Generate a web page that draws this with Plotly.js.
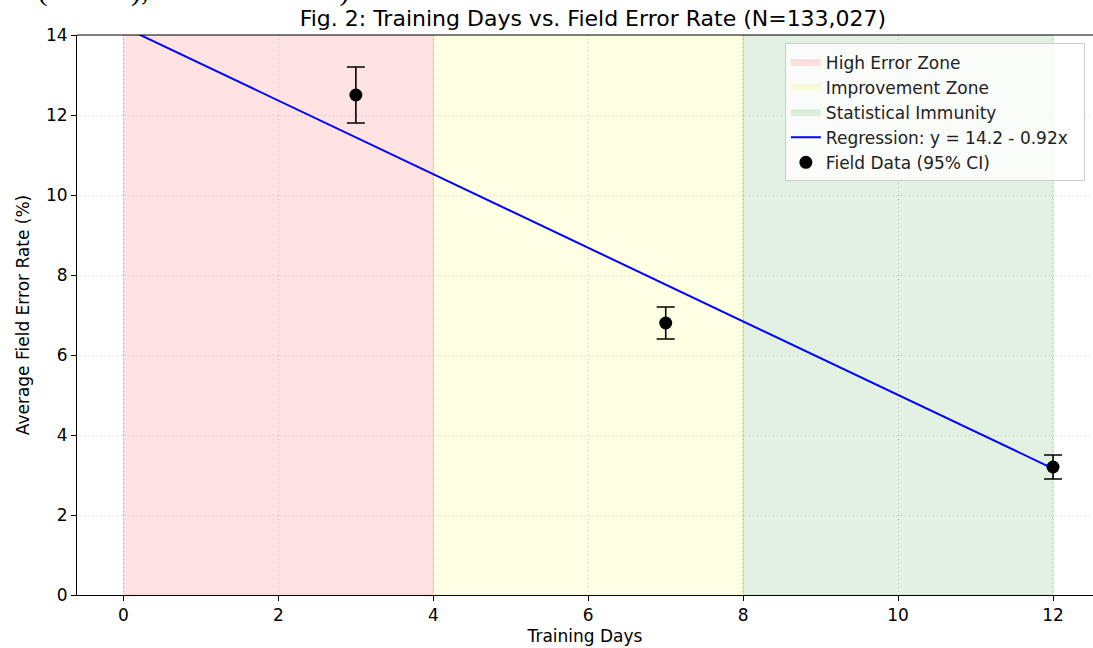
<!DOCTYPE html>
<html>
<head>
<meta charset="utf-8">
<script src="https://cdn.plot.ly/plotly-3.0.1.min.js"></script>
<style>html,body{margin:0;padding:0;background:#fff;overflow:hidden}</style>
</head>
<body>
<div id="chart" style="width:1093px;height:648px"></div>
<script>
// Zones
const zoneNames = ["High Error Zone", "Improvement Zone", "Statistical Immunity"];
const zoneStart = [0, 4, 8];
const zoneEnd = [4, 8, 12];
const zoneFill = ["rgba(255,0,0,0.11)", "rgba(255,255,0,0.11)", "rgba(0,128,0,0.11)"];
const zoneEdge = ["rgba(255,0,0,0.14)", "rgba(230,230,0,0.25)", "rgba(0,128,0,0.16)"];

// Field data
const days = [3, 7, 12];
const errorRate = [12.5, 6.8, 3.2];
const ci95 = [0.7, 0.4, 0.3];

// Regression endpoints (y = 14.2 - 0.92x)
const regDays = [0, 12];
const regRate = [14.2, 3.16];

// Ticks
const xTicks = [0, 2, 4, 6, 8, 10, 12];
const yTicks = [0, 2, 4, 6, 8, 10, 12, 14];

const font = "DejaVu Sans, sans-serif";
const pad = "\u00a0\u00a0";
const traces = [];
for (let i = 0; i < zoneNames.length; i++) {
  traces.push({
    type: "scatter", mode: "lines",
    x: [zoneStart[i], zoneEnd[i], zoneEnd[i], zoneStart[i], zoneStart[i]],
    y: [0, 0, 14, 14, 0],
    fill: "toself", fillcolor: zoneFill[i],
    line: {color: zoneEdge[i], width: 1},
    name: zoneNames[i], legendgroup: "g" + i, hoverinfo: "skip"
  });
}
traces.push({
  type: "scatter", mode: "lines", x: regDays, y: regRate,
  line: {color: "#0000ff", width: 2},
  name: "Regression: y = 14.2 - 0.92x" + pad, legendgroup: "g3"
});
traces.push({
  type: "scatter", mode: "markers", x: days, y: errorRate,
  marker: {color: "black", size: 13},
  error_y: {type: "data", array: ci95, visible: true, color: "black", thickness: 1.6, width: 9},
  name: "Field Data (95% CI)", legendgroup: "g4"
});

const layout = {
  width: 1093, height: 648,
  margin: {l: 77, r: 0, t: 35, b: 53},
  paper_bgcolor: "white", plot_bgcolor: "white",
  font: {family: font, size: 17, color: "#000"},
  title: {text: "Fig. 2: Training Days vs. Field Error Rate (N=133,027)",
          font: {family: font, size: 22, color: "#000"},
          x: 0.5078, xanchor: "center", xref: "paper", y: 0.972, yanchor: "middle"},
  xaxis: {range: [-0.6, 12.516], tickvals: xTicks, ticktext: xTicks.map(String),
          showline: true, linecolor: "black", linewidth: 1, mirror: false,
          ticks: "outside", ticklen: 5, tickcolor: "black",
          showgrid: true, gridcolor: "rgba(0,0,0,0.2)", griddash: "1px,3px", gridwidth: 1,
          zeroline: false, tickfont: {size: 17},
          title: {text: "Training Days", font: {size: 17}, standoff: 5}},
  yaxis: {range: [0, 14], tickvals: yTicks, ticktext: yTicks.map(String),
          showline: true, linecolor: "black", linewidth: 1,
          ticks: "outside", ticklen: 5, tickcolor: "black",
          showgrid: true, gridcolor: "rgba(0,0,0,0.2)", griddash: "1px,3px", gridwidth: 1,
          zeroline: false, tickfont: {size: 17},
          title: {text: "Average Field Error Rate (%)", font: {size: 17}, standoff: 12}},
  legend: {x: 0.992, y: 0.985, xanchor: "right", yanchor: "top",
           bgcolor: "rgba(255,255,255,0.8)", bordercolor: "#cccccc", borderwidth: 1,
           font: {family: font, size: 17, color: "#222"},
           traceorder: "grouped", tracegroupgap: 0},
  shapes: [{type: "line", xref: "paper", yref: "paper", x0: 0, x1: 1, y0: 1, y1: 1,
            line: {color: "black", width: 1}}],
  annotations: [{text: "ate (N = 33), n = bias of trial)", xref: "paper", yref: "paper",
                 x: -0.083, y: 1.046, xanchor: "left", yanchor: "bottom", showarrow: false,
                 font: {family: "Liberation Serif, serif", size: 30, color: "#000"}}]
};
Plotly.newPlot("chart", traces, layout, {displayModeBar: false, staticPlot: true});
</script>
</body>
</html>
